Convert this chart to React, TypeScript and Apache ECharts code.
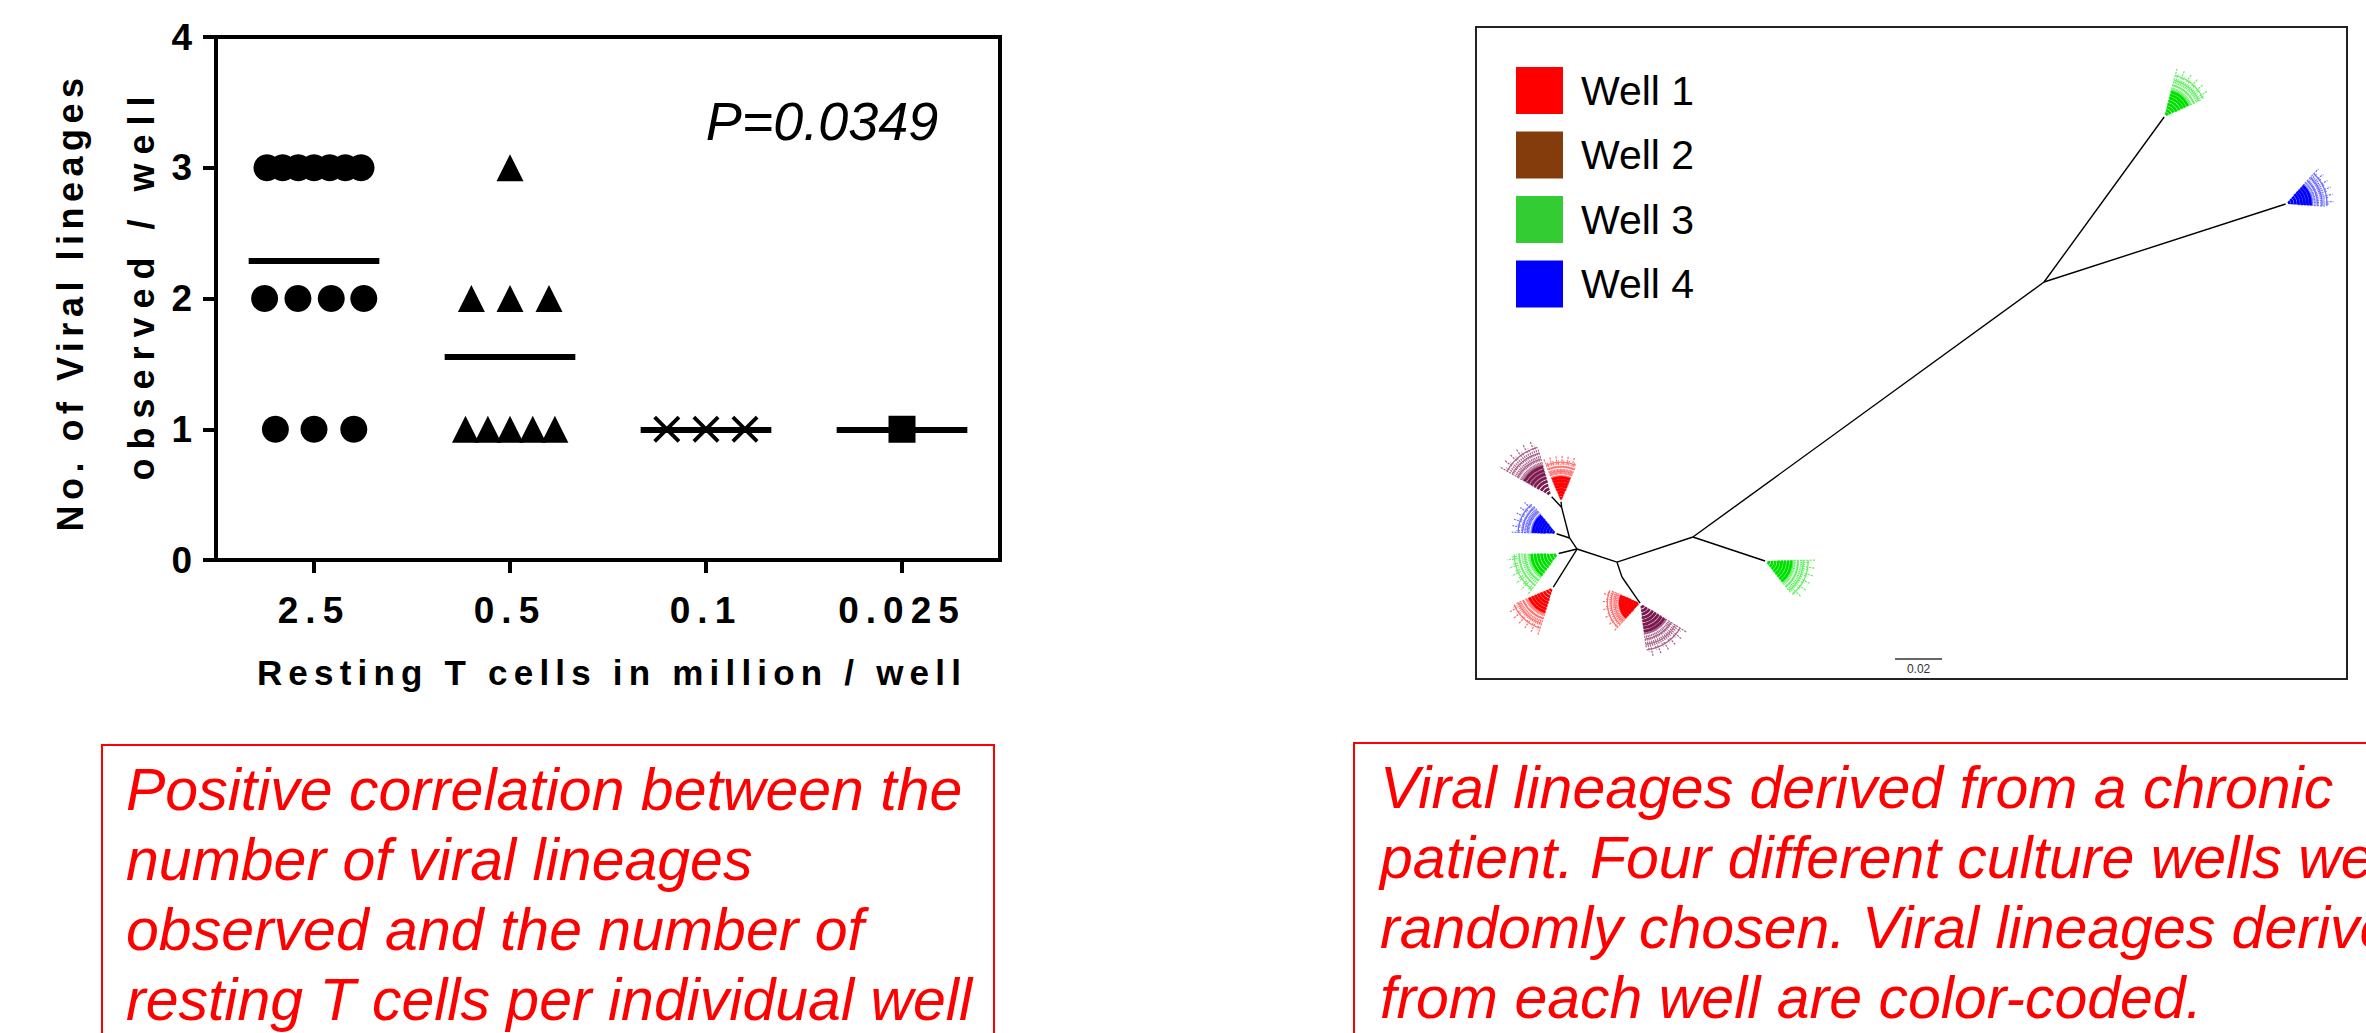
import React, { useEffect, useRef } from "react";
import * as echarts from "echarts";

// ---------------- Left panel data ----------------
const categories = ["2.5", "0.5", "0.1", "0.025"];
const yAxisMin = 0;
const yAxisMax = 4;
const yAxisStep = 1;

// [horizontal jitter inside the category (fraction of category width), viral lineages observed]
const wells25 = [
  [-0.24, 3], [-0.16, 3], [-0.08, 3], [0, 3], [0.08, 3], [0.16, 3], [0.24, 3],
  [-0.252, 2], [-0.082, 2], [0.088, 2], [0.254, 2],
  [-0.197, 1], [0, 1], [0.203, 1],
];
const wells05 = [
  [0, 3],
  [-0.197, 2], [0, 2], [0.199, 2],
  [-0.227, 1], [-0.113, 1], [0, 1], [0.116, 1], [0.229, 1],
];
const wells01 = [[-0.2, 1], [0, 1], [0.199, 1]];
const wells0025 = [[0, 1]];
const groupPoints = [wells25, wells05, wells01, wells0025];

const pValueText = "P=0.0349";
const yTitleLines = ["No. of Viral lineages", "observed / well"];
const xTitle = "Resting T cells in million / well";

const captionLeft = [
  "Positive correlation between the",
  "number of viral lineages",
  "observed and the number of",
  "resting T cells per individual well",
];
const captionRight = [
  "Viral lineages derived from a chronic",
  "patient. Four different culture wells were",
  "randomly chosen. Viral lineages derived",
  "from each well are color-coded.",
];

// ---------------- Right panel data (unrooted tree, substitutions/site) ----------------
const treeXMax = 0.3706;
const treeYMax = 0.2774;
const nodeNames = ["A", "Gtop", "Bright", "B", "Gright", "C", "C2", "RP", "D", "E", "F", "PT", "RT", "BL", "GL", "RLL"];
const nodeX = [0.2417, 0.2928, 0.3445, 0.0923, 0.123, 0.06, 0.0621, 0.0698, 0.043, 0.0398, 0.0364, 0.0322, 0.0362, 0.0343, 0.0352, 0.0329];
const nodeY = [0.1085, 0.0383, 0.0753, 0.217, 0.2272, 0.2277, 0.234, 0.2451, 0.2221, 0.2174, 0.2043, 0.1999, 0.202, 0.2156, 0.224, 0.2383];
const treeEdges = [
  ["A", "Gtop"], ["A", "Bright"], ["A", "B"], ["B", "Gright"], ["B", "C"],
  ["C", "C2"], ["C2", "RP"], ["C", "D"], ["D", "E"], ["E", "F"],
  ["F", "PT"], ["F", "RT"], ["E", "BL"], ["D", "GL"], ["D", "RLL"],
];
const scaleBarStart = [0.1783, 0.2689];
const scaleBarLength = 0.02;
const scaleBarLabel = "0.02";

const wellNames = ["Well 1", "Well 2", "Well 3", "Well 4"];
const wellLegendColors = ["#ff0000", "#843c0c", "#33cc33", "#0000ff"];
const wellTreeColors = ["#ff0000", "#7b1a4e", "#00e000", "#0000ff"];
const wellTreeLight = ["#ff7070", "#a8648a", "#66ee66", "#6f6fff"];

// leaf clusters: well index, tip node, direction (deg), half spread (deg), length (subst./site)
const clusterWell = [2, 3, 2, 1, 0, 3, 2, 0, 0, 1];
const clusterNode = ["Gtop", "Bright", "Gright", "PT", "RT", "BL", "GL", "RLL", "RP", "RP"];
const clusterAngle = [-50, -22, 25, -128, -90, -154, 153, 132, 168, 57];
const clusterSpread = [25, 25, 26, 22, 22, 24, 26, 24, 35, 25];
const clusterLength = [0.0213, 0.0204, 0.0213, 0.0255, 0.0196, 0.0191, 0.0221, 0.0213, 0.0162, 0.0234];

// ---------------- styles ----------------
const FONT = "'Liberation Sans', Arial, Helvetica, sans-serif";
const famXTick = "'Liberation Sans', Arial, lsxt";
const famXName = "'Liberation Sans', Arial, lsxn";
const famY1 = "'Liberation Sans', Arial, lsya";
const famY2 = "'Liberation Sans', Arial, lsyb";
const CROSS = "path://M1,0L5,4L9,0L10,1L6,5L10,9L9,10L5,6L1,10L0,9L4,5L0,1Z";
const groupSymbols = ["circle", "triangle", CROSS, "rect"];

const css = `
.cx text[style*="lsxt"] { letter-spacing: 7px; }
.cx text[style*="lsxn"] { letter-spacing: 6.2px; }
.cx text[style*="lsya"] { letter-spacing: 5.5px; }
.cx text[style*="lsyb"] { letter-spacing: 9px; }
`;

function nodeCoord(name: string) {
  const i = nodeNames.indexOf(name);
  return [nodeX[i], nodeY[i]];
}

function fanRenderer(dark: string, light: string) {
  return (params: any, api: any) => {
    const p = api.coord([api.value(0), api.value(1)]);
    const th = (api.value(2) * Math.PI) / 180;
    const ph = (api.value(3) * Math.PI) / 180;
    const L = api.size([api.value(4), 0])[0];
    const cx = p[0];
    const cy = p[1];
    const children: any[] = [];
    const nRays = 18;
    for (let j = 0; j < nRays; j++) {
      const a = th - ph + (2 * ph * j) / (nRays - 1);
      const r0 = L * 0.25;
      const r1 = L * (j % 3 === 0 ? 1 : j % 3 === 1 ? 0.9 : 0.82);
      children.push({
        type: "line",
        shape: {
          x1: cx + r0 * Math.cos(a), y1: cy + r0 * Math.sin(a),
          x2: cx + r1 * Math.cos(a), y2: cy + r1 * Math.sin(a),
        },
        style: { stroke: light, lineWidth: 1.2, lineDash: [2.2, 1] },
      });
    }
    for (let k = 0; k < 4; k++) {
      const r = L * (0.56 + 0.1 * k);
      children.push({
        type: "arc",
        shape: { cx, cy, r, startAngle: th - ph, endAngle: th + ph, clockwise: true },
        style: { fill: "none", stroke: light, lineWidth: 1.3 },
      });
    }
    const nInner = 8;
    for (let i = 0; i < nInner; i++) {
      const r = L * (0.08 + (0.44 * i) / (nInner - 1));
      children.push({
        type: "arc",
        shape: { cx, cy, r, startAngle: th - ph, endAngle: th + ph, clockwise: true },
        style: { fill: "none", stroke: dark, lineWidth: 2.8 },
      });
    }
    return { type: "group", children };
  };
}

function captionTexts(lines: string[], x: number, firstBaseline: number) {
  // central baseline of Liberation Sans lies 0.3465 em above the alphabetic baseline
  return lines.map((t, i) => ({
    type: "text",
    x,
    y: firstBaseline + i * 70 - 59 * 0.3465,
    silent: true,
    style: { text: t, fontFamily: FONT, fontSize: 59, fontStyle: "italic", fill: "#ff0000", lineHeight: 59, align: "left", verticalAlign: "middle" },
  }));
}

function buildOption() {
  const means = groupPoints.map((g) => g.reduce((s, p) => s + p[1], 0) / g.length);

  const scatterSeries = groupPoints.map((g, ci) => ({
    type: "scatter",
    xAxisIndex: 1,
    yAxisIndex: 0,
    symbol: groupSymbols[ci],
    symbolSize: 27,
    itemStyle: { color: "#000", opacity: 1 },
    data: g.map((p) => [ci + p[0], p[1]]),
    z: 4,
    silent: true,
  }));

  const meanSeries = {
    type: "lines",
    coordinateSystem: "cartesian2d",
    xAxisIndex: 1,
    yAxisIndex: 0,
    lineStyle: { color: "#000", width: 6, opacity: 1 },
    data: means.map((m, i) => ({ coords: [[i - 1 / 3, m], [i + 1 / 3, m]] })),
    z: 5,
    silent: true,
  };

  const branchSeries = {
    type: "lines",
    coordinateSystem: "cartesian2d",
    xAxisIndex: 2,
    yAxisIndex: 1,
    lineStyle: { color: "#000", width: 1.4, opacity: 1 },
    data: treeEdges.map(([a, b]) => ({ coords: [nodeCoord(a), nodeCoord(b)] })),
    silent: true,
  };

  const scaleSeries = {
    type: "lines",
    coordinateSystem: "cartesian2d",
    xAxisIndex: 2,
    yAxisIndex: 1,
    lineStyle: { color: "#333", width: 1.5, opacity: 1 },
    data: [{ coords: [scaleBarStart, [scaleBarStart[0] + scaleBarLength, scaleBarStart[1]]] }],
    silent: true,
  };

  const scaleLabelSeries = {
    type: "scatter",
    xAxisIndex: 2,
    yAxisIndex: 1,
    symbolSize: 2,
    itemStyle: { color: "rgba(0,0,0,0)" },
    label: {
      show: true,
      position: "bottom",
      distance: 3,
      formatter: scaleBarLabel,
      fontFamily: FONT,
      fontSize: 12,
      color: "#333",
      opacity: 1,
    },
    data: [[scaleBarStart[0] + scaleBarLength / 2, scaleBarStart[1]]],
    silent: true,
    z: 6,
  };

  const fanSeries = wellNames.map((name, w) => ({
    type: "custom",
    name,
    coordinateSystem: "cartesian2d",
    xAxisIndex: 2,
    yAxisIndex: 1,
    clip: false,
    silent: true,
    itemStyle: { color: wellTreeColors[w] },
    renderItem: fanRenderer(wellTreeColors[w], wellTreeLight[w]),
    data: clusterWell
      .map((cw, k) => ({ cw, k }))
      .filter((o) => o.cw === w)
      .map(({ k }) => {
        const c = nodeCoord(clusterNode[k]);
        return [c[0], c[1], clusterAngle[k], clusterSpread[k], clusterLength[k]];
      }),
  }));

  return {
    animation: false,
    backgroundColor: "#fff",
    textStyle: { fontFamily: FONT },
    grid: [
      { left: 216, top: 37, width: 784, height: 523, show: true, borderColor: "#000", borderWidth: 4, backgroundColor: "transparent" },
      { left: 1476, top: 27, width: 871, height: 652, show: true, borderColor: "#222", borderWidth: 2, backgroundColor: "transparent" },
    ],
    xAxis: [
      {
        type: "category",
        gridIndex: 0,
        data: categories,
        boundaryGap: true,
        axisLine: { show: true, onZero: false, lineStyle: { color: "#000", width: 4 } },
        axisTick: { show: true, alignWithLabel: true, length: 13, lineStyle: { color: "#000", width: 4 } },
        axisLabel: { color: "#000", fontSize: 37, fontWeight: "bold", fontFamily: famXTick, margin: 32 },
        splitLine: { show: false },
      },
      { type: "value", gridIndex: 0, min: -0.5, max: 3.5, show: false },
      { type: "value", gridIndex: 1, min: 0, max: treeXMax, show: false },
    ],
    yAxis: [
      {
        type: "value",
        gridIndex: 0,
        min: yAxisMin,
        max: yAxisMax,
        interval: yAxisStep,
        axisLine: { show: true, onZero: false, lineStyle: { color: "#000", width: 4 } },
        axisTick: { show: true, length: 13, lineStyle: { color: "#000", width: 4 } },
        axisLabel: { color: "#000", fontSize: 37, fontWeight: "bold", fontFamily: FONT, margin: 24 },
        splitLine: { show: false },
      },
      { type: "value", gridIndex: 1, min: 0, max: treeYMax, inverse: true, show: false },
    ],
    legend: {
      orient: "vertical",
      left: 1516,
      top: 67,
      padding: 0,
      itemWidth: 47,
      itemHeight: 47,
      itemGap: 17.5,
      icon: "rect",
      selectedMode: false,
      itemStyle: { borderWidth: 0 },
      textStyle: { fontFamily: FONT, fontSize: 41, color: "#000", padding: [0, 0, 0, 13] },
      data: wellNames.map((n, i) => ({ name: n, itemStyle: { color: wellLegendColors[i] } })),
    },
    graphic: [
      {
        type: "text", x: 822, y: 121, silent: true,
        style: { text: pValueText, fontFamily: FONT, fontSize: 54, fontStyle: "italic", fill: "#000", align: "center", verticalAlign: "middle" },
      },
      {
        type: "text", x: 70, y: 302, rotation: Math.PI / 2, silent: true,
        style: { text: yTitleLines[0], fontFamily: famY1, fontSize: 36, fontWeight: "bold", fill: "#000", align: "center", verticalAlign: "middle" },
      },
      {
        type: "text", x: 141, y: 284, rotation: Math.PI / 2, silent: true,
        style: { text: yTitleLines[1], fontFamily: famY2, fontSize: 36, fontWeight: "bold", fill: "#000", align: "center", verticalAlign: "middle" },
      },
      {
        type: "text", x: 612, y: 672, silent: true,
        style: { text: xTitle, fontFamily: famXName, fontSize: 35, fontWeight: "bold", fill: "#000", align: "center", verticalAlign: "middle" },
      },
      {
        type: "rect", silent: true,
        shape: { x: 102, y: 745, width: 892, height: 400 },
        style: { fill: "none", stroke: "#ff0000", lineWidth: 2 },
      },
      {
        type: "rect", silent: true,
        shape: { x: 1354, y: 743, width: 1100, height: 400 },
        style: { fill: "none", stroke: "#ff0000", lineWidth: 2 },
      },
      ...captionTexts(captionLeft, 126, 810),
      ...captionTexts(captionRight, 1380, 808),
    ],
    series: [...scatterSeries, meanSeries, branchSeries, scaleSeries, scaleLabelSeries, ...fanSeries],
  };
}

export default function App() {
  const ref = useRef<HTMLDivElement>(null);
  useEffect(() => {
    if (!ref.current) return;
    const chart = echarts.init(ref.current, null, { renderer: "svg" });
    chart.setOption(buildOption() as any);
    return () => chart.dispose();
  }, []);
  return (
    <>
      <style>{css}</style>
      <div
        ref={ref}
        className="cx"
        style={{ position: "fixed", left: 0, top: 0, width: 2366, height: 1033, background: "#fff" }}
      />
    </>
  );
}
